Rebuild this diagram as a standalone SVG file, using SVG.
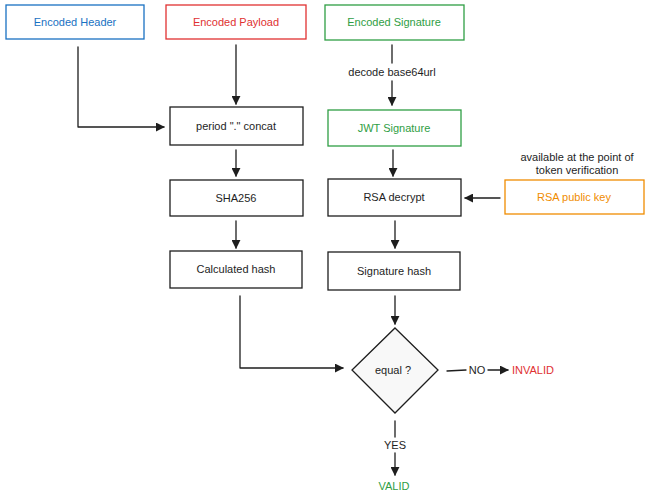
<svg xmlns="http://www.w3.org/2000/svg" width="650" height="499" viewBox="0 0 650 499">
<defs>
<style>
text{font-family:"Liberation Sans",Arial,sans-serif;font-size:11px;text-anchor:middle;dominant-baseline:central;fill:#1e1e1e}
.box{fill:#fff;stroke:#1e1e1e;stroke-width:1.3}
.blue{stroke:#1971c2}.red{stroke:#e03131}.green{stroke:#2f9e44}.orange{stroke:#f08c00}
.tb{fill:#1971c2}.tr{fill:#e03131}.tg{fill:#2f9e44}.to{fill:#f08c00}
.ln{fill:none;stroke:#1e1e1e;stroke-width:1.3;stroke-linecap:round;stroke-linejoin:round}
</style>
<marker id="ah" viewBox="0 0 10 10" refX="9" refY="5" markerWidth="9" markerHeight="9" markerUnits="userSpaceOnUse" orient="auto">
<path d="M0,0 L10,5 L0,10 Z" fill="#1e1e1e"/>
</marker>
</defs>
<rect width="650" height="499" fill="#fff"/>
<g id="connectors">
<path class="ln" d="M78,47 L78,127 L164,127" marker-end="url(#ah)"/>
<path class="ln" d="M236,45 L236,104" marker-end="url(#ah)"/>
<path class="ln" d="M392,45 L392,63"/>
<path class="ln" d="M392,81 L392,105" marker-end="url(#ah)"/>
<path class="ln" d="M236,150 L236,176" marker-end="url(#ah)"/>
<path class="ln" d="M393,150 L393,176" marker-end="url(#ah)"/>
<path class="ln" d="M500,198 L465,198" marker-end="url(#ah)"/>
<path class="ln" d="M236,221 L236,248" marker-end="url(#ah)"/>
<path class="ln" d="M395,221 L395,248" marker-end="url(#ah)"/>
<path class="ln" d="M240,296 L240,368 L343,368" marker-end="url(#ah)"/>
<path class="ln" d="M395,296 L395,324" marker-end="url(#ah)"/>
<path class="ln" d="M447,371 L466,370"/>
<path class="ln" d="M488,370 L508,370" marker-end="url(#ah)"/>
<path class="ln" d="M395,421 L395,437"/>
<path class="ln" d="M395,453 L395,475" marker-end="url(#ah)"/>
<text x="477" y="370">NO</text>
<text x="392" y="72">decode base64url</text>
<text x="395" y="445">YES</text>
</g>
<g id="encoded-header"><rect class="box blue" x="6" y="5" width="138" height="34"/><text class="tb" x="75" y="22">Encoded Header</text></g>
<g id="encoded-payload"><rect class="box red" x="166" y="5" width="140" height="34"/><text class="tr" x="236" y="22">Encoded Payload</text></g>
<g id="encoded-signature"><rect class="box green" x="325" y="5" width="139" height="35"/><text class="tg" x="394" y="22">Encoded Signature</text></g>
<g id="concat"><rect class="box" x="170" y="107" width="133" height="38"/><text x="236" y="126">period "." concat</text></g>
<g id="jwt-signature"><rect class="box green" x="328" y="110" width="133" height="36"/><text class="tg" x="394" y="128">JWT Signature</text></g>
<g id="sha256"><rect class="box" x="170" y="180" width="133" height="36"/><text x="236" y="198">SHA256</text></g>
<g id="rsa-decrypt"><rect class="box" x="328" y="179" width="133" height="37"/><text x="394" y="197">RSA decrypt</text></g>
<g id="rsa-public-key"><rect class="box orange" x="505" y="180" width="139" height="34"/><text class="to" x="574" y="197">RSA public key</text></g>
<g id="note"><text x="577" y="157">available at the point of</text><text x="577" y="170">token verification</text></g>
<g id="calculated-hash"><rect class="box" x="170" y="251" width="132" height="37"/><text x="236" y="269">Calculated hash</text></g>
<g id="signature-hash"><rect class="box" x="328" y="252" width="132" height="38"/><text x="394" y="271">Signature hash</text></g>
<g id="equal"><path class="box" style="fill:#f8f8f8" d="M395,328 L438,370 L395,413 L352,370 Z"/><text x="393" y="370">equal ?</text></g>
<g id="invalid"><text class="tr" x="533" y="370">INVALID</text></g>
<g id="valid"><text class="tg" x="394" y="486">VALID</text></g>
</svg>
